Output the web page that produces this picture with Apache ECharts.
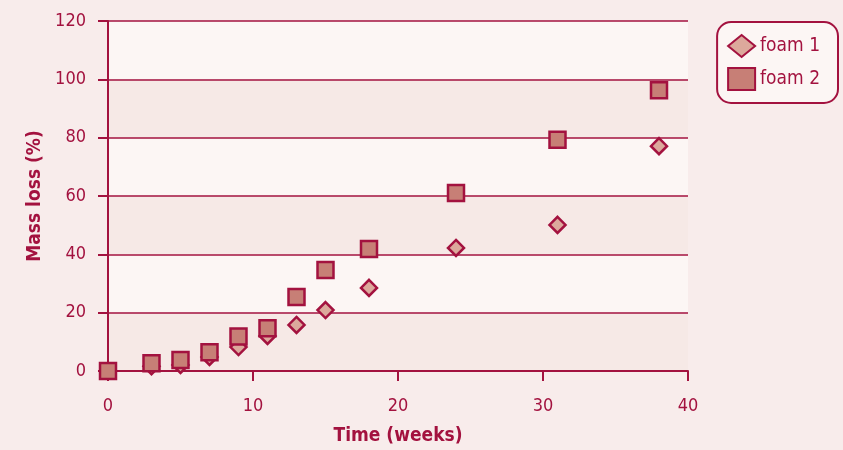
<!DOCTYPE html>
<html><head><meta charset="utf-8">
<script src="https://cdn.jsdelivr.net/npm/echarts@6/dist/echarts.min.js"></script>
<style>html,body{margin:0;padding:0;background:#f8eceb;}#c{width:843px;height:450px;}</style>
</head><body><div id="c"></div>
<script>
const weeks = [0, 3, 5, 7, 9, 11, 13, 15, 18, 24, 31, 38];
const foam1 = [0, 1.6, 2.1, 4.8, 8.2, 12.0, 15.8, 20.9, 28.5, 42.2, 50.1, 77.1];
const foam2 = [0, 2.7, 3.8, 6.4, 11.8, 14.7, 25.4, 34.6, 41.8, 61.0, 79.3, 96.3];
const seriesNames = ['foam 1', 'foam 2'];
const xTitle = 'Time (weeks)';
const yTitle = 'Mass loss (%)';

const crimson = '#a3123f';
const font = '"DejaVu Sans Condensed", "DejaVu Sans", sans-serif';
const chart = echarts.init(document.getElementById('c'), null, {renderer: 'canvas'});
chart.setOption({
  backgroundColor: '#f8eceb',
  animation: false,
  textStyle: {fontFamily: font},
  legend: {
    right: 5, top: 22, orient: 'vertical',
    padding: [12, 18, 12, 10],
    itemWidth: 27, itemHeight: 22, itemGap: 9,
    borderColor: crimson, borderWidth: 2, borderRadius: 14,
    backgroundColor: '#fcf6f4',
    textStyle: {color: crimson, fontSize: 19, fontFamily: font},
    data: seriesNames
  },
  grid: {left: 108, right: 155, top: 21, bottom: 79, containLabel: false, outerBoundsMode: 'none'},
  xAxis: {
    type: 'value', min: 0, max: 40, interval: 10,
    name: xTitle, nameLocation: 'middle', nameGap: 56,
    nameTextStyle: {color: crimson, fontSize: 19, fontWeight: 'bold', fontFamily: font},
    axisLine: {show: true, lineStyle: {color: crimson, width: 2}},
    axisTick: {show: true, length: 10, lineStyle: {color: crimson, width: 2}},
    axisLabel: {color: crimson, fontSize: 18, margin: 26, fontFamily: font},
    splitLine: {show: false}
  },
  yAxis: {
    type: 'value', min: 0, max: 120, interval: 20,
    name: yTitle, nameLocation: 'middle', nameGap: 62, nameRotate: 90,
    nameTextStyle: {color: crimson, fontSize: 19, fontWeight: 'bold', fontFamily: font},
    axisLine: {show: true, lineStyle: {color: crimson, width: 2}},
    axisTick: {show: true, length: 10, lineStyle: {color: crimson, width: 2}},
    axisLabel: {color: crimson, fontSize: 18, margin: 22, fontFamily: font},
    splitLine: {show: true, lineStyle: {color: crimson, width: 1.5}},
    splitArea: {show: true, areaStyle: {color: ['#f6e9e6', '#fcf6f4']}}
  },
  series: [
    {
      name: seriesNames[0], type: 'scatter', symbol: 'diamond', symbolSize: 16, clip: false,
      itemStyle: {color: '#dca99c', borderColor: crimson, borderWidth: 2.5, opacity: 1},
      data: weeks.map((w, i) => [w, foam1[i]])
    },
    {
      name: seriesNames[1], type: 'scatter', symbol: 'rect', symbolSize: 16, clip: false,
      itemStyle: {color: '#c77f76', borderColor: crimson, borderWidth: 2.5, opacity: 1},
      data: weeks.map((w, i) => [w, foam2[i]])
    }
  ]
});
</script></body></html>
